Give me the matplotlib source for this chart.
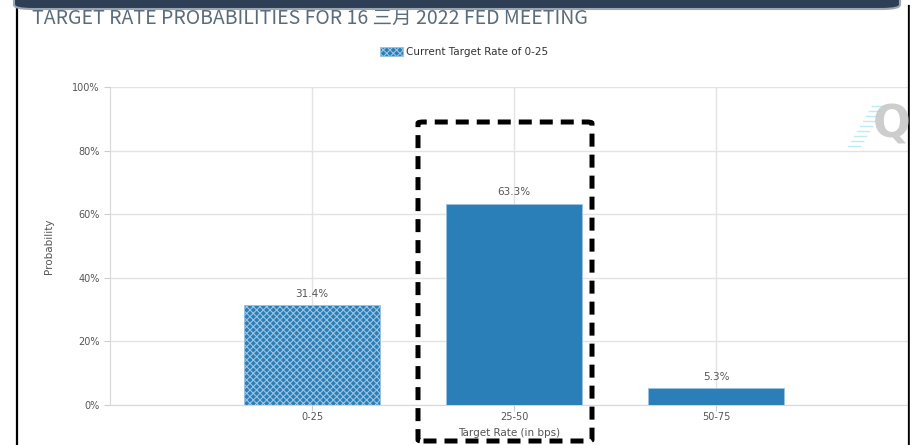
import matplotlib.pyplot as plt
from matplotlib.patches import FancyBboxPatch, Rectangle
from matplotlib.lines import Line2D

# data
rates = ['0-25', '25-50', '50-75']
probs = [31.4, 63.3, 5.3]
current = '0-25'
title = 'TARGET RATE PROBABILITIES FOR 16 三月 2022 FED MEETING'
yticks = [0, 20, 40, 60, 80, 100]

W, H = 916, 445
fig = plt.figure(figsize=(W / 100, H / 100), dpi=100)
plt.rcParams['hatch.color'] = 'white'
plt.rcParams['hatch.linewidth'] = 0.8


def fx(px):
    return px / W


def fy(py):
    return 1 - py / H


# axes placed to match the screenshot
ax = fig.add_axes([fx(110), fy(405), fx(908) - fx(110), fy(87) - fy(405)])

bar_color = '#2a7fb8'
x = list(range(len(rates)))
for i, (r, p) in enumerate(zip(rates, probs)):
    if r == current:
        ax.bar(i, p, width=0.67, color=bar_color, edgecolor='#9cc3e0',
               hatch='xxxxx', linewidth=0.6, label='Current Target Rate of 0-25', zorder=3)
    else:
        ax.bar(i, p, width=0.67, color=bar_color, edgecolor='#9cc3e0',
               linewidth=0.6, zorder=3)
    ax.text(i, p + 2, f'{p:.1f}%', ha='center', va='bottom', fontsize=7.5,
            color='#555555', family='DejaVu Sans')

ax.set_xlim(-1, 2.95)
ax.set_ylim(0, 100)
ax.set_yticks(yticks)
ax.set_yticklabels([f'{t}%' for t in yticks])
ax.set_xticks(x)
ax.set_xticklabels(rates)
ax.tick_params(axis='both', labelsize=7, colors='#cccccc', labelcolor='#555555', length=4)
ax.tick_params(axis='x', pad=1)
ax.grid(True, color='#e3e3e3', linewidth=1, zorder=0)
for s in ['top', 'right']:
    ax.spines[s].set_visible(False)
ax.spines['left'].set_color('#d8d8d8')
ax.spines['bottom'].set_color('#d8d8d8')
ax.set_ylabel('Probability', fontsize=7.5, color='#555555', labelpad=13)
ax.set_xlabel('Target Rate (in bps)', fontsize=7.5, color='#555555', labelpad=4)

# legend
ax.legend(loc='center', bbox_to_anchor=(fx(464), fy(52)), bbox_transform=fig.transFigure,
          frameon=False, fontsize=7.5, handlelength=2.2, handleheight=0.9, handletextpad=0.3,
          labelcolor='#333333')

# title
fig.text(fx(32), fy(18), title, fontsize=14, color='#5a6b7b', va='center', ha='left',
         family=['Liberation Sans Narrow', 'Noto Sans CJK SC', 'DejaVu Sans'])

# watermark Q
fig.text(fx(892), fy(125), 'Q', fontsize=32, color='#c8c8c8', fontweight='bold',
         ha='center', va='center', family='DejaVu Sans', alpha=0.9)
for k in range(9):
    y = 106 + k * 5
    fig.add_artist(Line2D([fx(872 - k * 3), fx(884 - k * 3)], [fy(y), fy(y)],
                          color='#9ee3f5', lw=1, alpha=0.7))

# frame of the screenshot
fig.add_artist(Line2D([fx(17), fx(17)], [0, fy(6)], color='black', lw=1.6))
fig.add_artist(Line2D([fx(909), fx(909)], [0, fy(6)], color='black', lw=1.6))
fig.add_artist(Rectangle((fx(909.8), 0), 1 - fx(909.8), 1, color='white', zorder=5))
top = FancyBboxPatch((fx(14), fy(9)), fx(900) - fx(14), 0.06,
                     boxstyle='round,pad=0,rounding_size=0.02',
                     facecolor='#2e3f55', edgecolor='#9aa6b2', lw=1.5, zorder=6,
                     mutation_aspect=H / W)
fig.add_artist(top)

# dashed highlight box
box = FancyBboxPatch((fx(418), fy(441)), fx(592) - fx(418), fy(122) - fy(441),
                     boxstyle='round,pad=0,rounding_size=0.006',
                     facecolor='none', edgecolor='black', lw=3.6,
                     linestyle=(0, (2.6, 1.6)), zorder=7, mutation_aspect=H / W)
fig.add_artist(box)

fig.savefig('out.png', dpi=100)
